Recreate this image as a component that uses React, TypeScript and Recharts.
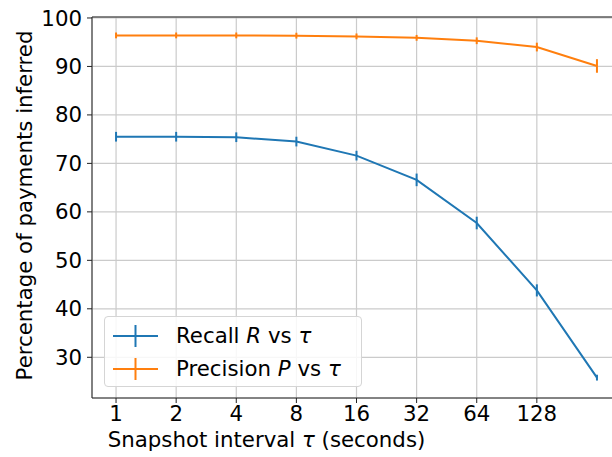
import {
  CartesianGrid,
  ErrorBar,
  Line,
  LineChart,
  ReferenceLine,
  XAxis,
  YAxis
} from "recharts";

const tau = [1, 2, 4, 8, 16, 32, 64, 128, 256];
const recall = [75.5, 75.5, 75.4, 74.5, 71.6, 66.6, 57.7, 43.8, 25.8];
const recallErr = [1.0, 1.0, 1.0, 1.0, 1.0, 1.3, 1.3, 1.25, 0.6];
const precision = [96.4, 96.4, 96.4, 96.35, 96.2, 95.9, 95.3, 94.0, 90.1];
const precisionErr = [0.6, 0.6, 0.6, 0.6, 0.6, 0.6, 0.7, 0.9, 1.4];
const xTicks = [1, 2, 4, 8, 16, 32, 64, 128];
const yTicks = [30, 40, 50, 60, 70, 80, 90, 100];

const xDomain = [Math.pow(2, -0.4), Math.pow(2, 8.4)];
const yDomain = [21.6, 100.2];

const blue = "#1f77b4";
const orange = "#ff7f0e";
const font = "'DejaVu Sans', sans-serif";
const fs = 21.3;

const data = tau.map((t, i) => ({
  tau: t,
  recall: recall[i],
  recallErr: recallErr[i],
  precision: precision[i],
  precisionErr: precisionErr[i]
}));

const legendItems = [
  { color: blue, name: "Recall", sym: "R" },
  { color: orange, name: "Precision", sym: "P" }
];

function LegendBox() {
  return (
    <div
      style={{
        position: "absolute",
        left: 104,
        top: 316,
        border: "1px solid #d5d5d5",
        borderRadius: 4,
        background: "rgba(255,255,255,0.85)",
        width: 258,
        height: 71,
        boxSizing: "border-box",
        padding: "2px 0 0 7px",
        fontFamily: font,
        fontSize: fs
      }}
    >
      {legendItems.map((it) => (
        <div key={it.name} style={{ display: "flex", alignItems: "center", height: 33 }}>
          <svg width={64} height={24}>
            <line x1={1} x2={46} y1={12} y2={12} stroke={it.color} strokeWidth={2} />
            <line x1={23.5} x2={23.5} y1={1} y2={23} stroke={it.color} strokeWidth={2} />
          </svg>
          <span style={{ color: "#000", whiteSpace: "pre" }}>
            {it.name} <i>{it.sym}</i> vs <i>τ</i>
          </span>
        </div>
      ))}
    </div>
  );
}

// x title with an italic tau, centred under the plot like the reference
function XTitle(props: any) {
  const vb = props.viewBox || {};
  const cx = vb.x + vb.width / 2 - 90;
  const y = vb.y + vb.height - 10;
  return (
    <text x={cx} y={y} textAnchor="middle" fill="#000" fontSize={fs} fontFamily={font}>
      <tspan>Snapshot interval </tspan>
      <tspan fontStyle="italic">τ</tspan>
      <tspan> (seconds)</tspan>
    </text>
  );
}

export default function App() {
  return (
    <div style={{ position: "absolute", left: 0, top: 0, width: 612, height: 457, overflow: "hidden", background: "#fff" }}>
      <LineChart
        width={630}
        height={457}
        data={data}
        margin={{ top: 17, right: 9, left: 0, bottom: 0 }}
        style={{ fontFamily: font }}
      >
        <CartesianGrid stroke="#cbcbcb" strokeWidth={1.2} />
        <XAxis
          dataKey="tau"
          type="number"
          scale="log"
          domain={xDomain}
          allowDataOverflow
          ticks={xTicks}
          interval={0}
          height={59}
          tickSize={5}
          tickMargin={3}
          stroke="#222"
          tick={{ fill: "#000", fontSize: fs }}
          label={<XTitle />}
        />
        <YAxis
          type="number"
          domain={yDomain}
          allowDataOverflow
          ticks={yTicks}
          interval={0}
          width={92}
          tickSize={5}
          tickMargin={5}
          stroke="#222"
          tick={{ fill: "#000", fontSize: fs }}
          label={{ value: "Percentage of payments inferred", angle: -90, position: "center", dx: -22, dy: -2, fill: "#000", fontSize: fs }}
        />
        <ReferenceLine y={yDomain[1]} stroke="#222" strokeWidth={1} />
        <Line
          dataKey="recall"
          stroke={blue}
          strokeWidth={2}
          dot={false}
          isAnimationActive={false}
        >
          <ErrorBar dataKey="recallErr" width={0} stroke={blue} strokeWidth={2} direction="y" />
        </Line>
        <Line
          dataKey="precision"
          stroke={orange}
          strokeWidth={2}
          dot={false}
          isAnimationActive={false}
        >
          <ErrorBar dataKey="precisionErr" width={0} stroke={orange} strokeWidth={2} direction="y" />
        </Line>
      </LineChart>
      <LegendBox />
    </div>
  );
}
